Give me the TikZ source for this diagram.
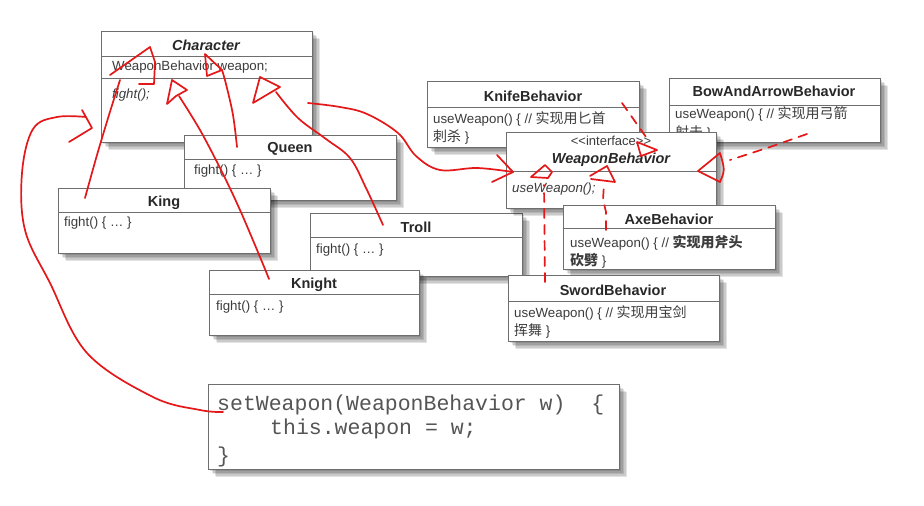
\documentclass[tikz,border=0pt]{standalone}
\usepackage{fontspec}
\setmainfont{Liberation Sans}
\newfontfamily\cjk{Noto Sans CJK SC}
\newfontfamily\monof{Liberation Mono}
\definecolor{hred}{RGB}{228,24,24}
\definecolor{boxgray}{RGB}{110,110,110}
\definecolor{tcol}{RGB}{40,40,40}
\definecolor{bcol}{RGB}{60,60,60}
\definecolor{ccol}{RGB}{85,85,85}
\tikzset{
  shd/.style={preaction={fill=black, fill opacity=0.11, draw=none, transform canvas={xshift=#1pt, yshift=-#1pt}}},
  boxst/.style={shd=8, shd=6.5, shd=5, shd=3.5, shd=2,
    draw=boxgray, fill=white, line width=0.9pt, anchor=north west, inner sep=0pt},
  sepst/.style={draw=boxgray, line width=0.9pt},
  titlest/.style={inner sep=0pt, text=tcol, font=\bfseries\fontsize{14.5}{16}\selectfont},
  bodyst/.style={inner sep=0pt, anchor=west, text=bcol, font=\fontsize{13.3}{15}\selectfont},
  codest/.style={inner sep=0pt, anchor=west, text=ccol, font=\monof\fontsize{21.5}{24}\selectfont},
  redl/.style={draw=hred, line width=1.7pt, line cap=round, line join=round},
  redd/.style={redl, dash pattern=on 9pt off 7pt}
}
\newcommand\umlbox[6]{%
  \node[boxst, minimum width={(#4-#2)*1pt}, minimum height={(#5-#3)*1pt}] (#1) at (#2,#3) {};
  \draw[sepst] (#1.west |- 0,#6) -- (#1.east |- 0,#6);
}
\newcommand\cj[1]{{\cjk\fontsize{14}{16}\selectfont #1}}
\begin{document}
\begin{tikzpicture}[x=1pt,y=-1pt]
\useasboundingbox (0,0) rectangle (924,506);
\fill[white] (0,0) rectangle (924,506);

% Character
\umlbox{char}{101}{31}{312}{142}{56}
\draw[sepst] (char.west |- 0,78) -- (char.east |- 0,78);
\node[titlest] (charT) at (206,45) {\itshape Character};
\node[bodyst] (charA) at (112,67) {WeaponBehavior weapon;};
\node[bodyst] (charM) at (112,95) {\itshape fight();};

% Queen
\umlbox{queen}{184}{135}{396}{200}{159}
\node[titlest] (queenT) at (290,149) {Queen};
\node[bodyst] (queenM) at (194,171) {fight() \{ … \}};

% King
\umlbox{king}{58}{188}{270}{253}{212}
\node[titlest] (kingT) at (164,203) {King};
\node[bodyst] (kingM) at (64,223) {fight() \{ … \}};

% Troll
\umlbox{troll}{310}{213}{522}{276}{237}
\node[titlest] (trollT) at (416,227) {Troll};
\node[bodyst] (trollM) at (316,250) {fight() \{ … \}};

% Knight
\umlbox{knight}{209}{270}{419}{335}{294}
\node[titlest] (knightT) at (314,285) {Knight};
\node[bodyst] (knightM) at (216,307) {fight() \{ … \}};

% KnifeBehavior
\umlbox{knife}{427}{81}{639}{147}{107}
\node[titlest] (knifeT) at (533,96) {KnifeBehavior};
\node[bodyst] (knifeM) at (433,119) {useWeapon() \{ // \cj{实现用匕首}};
\node[bodyst] (knifeN) at (433,137) {\cj{刺杀} \}};

% BowAndArrowBehavior
\umlbox{bow}{669}{78}{880}{142}{105}
\node[titlest] (bowT) at (774,91) {BowAndArrowBehavior};
\node[bodyst] (bowM) at (675,114) {useWeapon() \{ // \cj{实现用弓箭}};
\node[bodyst] (bowN) at (675,133) {\cj{射击} \}};

% WeaponBehavior
\umlbox{weapon}{506}{132}{716}{208}{171}
\node[inner sep=0pt, text=bcol, font=\fontsize{13}{15}\selectfont] (weaponS) at (611,141) {<\kern0pt<interface>\kern0pt>};
\node[titlest] (weaponT) at (611,160) {\itshape WeaponBehavior};
\node[bodyst] (weaponM) at (512,189) {\itshape useWeapon();};

% AxeBehavior
\umlbox{axe}{563}{205}{775}{269}{228}
\node[titlest] (axeT) at (669,219) {AxeBehavior};
\node[bodyst] (axeM) at (570,243) {useWeapon() \{ // {\bfseries\cj{实现用斧头}}};
\node[bodyst] (axeN) at (570,261) {{\bfseries\cj{砍劈}} \}};

% SwordBehavior
\umlbox{sword}{508}{275}{719}{341}{301}
\node[titlest] (swordT) at (613,290) {SwordBehavior};
\node[bodyst] (swordM) at (514,313) {useWeapon() \{ // \cj{实现用宝剑}};
\node[bodyst] (swordN) at (514,331) {\cj{挥舞} \}};

% code box
\node[boxst, minimum width=411pt, minimum height=85pt] (code) at (208,384) {};
\node[codest] (code1) at (217,405) {setWeapon(WeaponBehavior w)\ \ \{};
\node[codest] (code2) at (270,429) {this.weapon = w;};
\node[codest] (code3) at (217,457) {\}};

% ---- red hand-drawn annotations ----
\coordinate (kingTop) at (85,198);
\coordinate (knightTop) at (269,279);
\coordinate (queenTop) at (237,147);
\coordinate (trollTop) at (383,225);
\coordinate (charRight) at (308,103);
\coordinate (weaponLeft) at (513,172);
\coordinate (codeLeft) at (223,412);
\coordinate (charLeft) at (92,128);

% King -> Character
\draw[redl] plot[smooth, tension=0.6] coordinates {(kingTop) (97,155) (109,115) (120,80)};
\draw[redl] (110,75) -- (150,47) -- (155,62) -- (154,84) -- (139,84);
% Knight -> Character
\draw[redl] plot[smooth, tension=0.6] coordinates {(knightTop) (260,257) (240,210) (222,172) (200,130) (179,96)};
\draw[redl] (167,104) -- (172,80) -- (187,90) -- (176,96) -- cycle;
% Queen -> Character
\draw[redl] plot[smooth, tension=0.6] coordinates {(queenTop) (233,115) (226,84) (222,70)};
\draw[redl] (205,54) -- (222,70) -- (207,76) -- cycle;
% Troll -> Character
\draw[redl] plot[smooth, tension=0.6] coordinates {(trollTop) (366,188) (350,158) (326,139) (298,118) (276,92)};
\draw[redl] (260,77) -- (280,87) -- (253,103) -- cycle;
% Character -> WeaponBehavior
\draw[redl] plot[smooth, tension=0.6] coordinates {(charRight) (340,107) (367,114) (398,133) (416,156) (440,170) (477,168) (weaponLeft)};
\draw[redl] (497,155) -- (weaponLeft) -- (492,182);
% setWeapon -> Character
\draw[redl] plot[smooth, tension=0.6] coordinates {(codeLeft) (200,410) (153,397) (87,353) (50,283) (25,230) (22,173) (33,129) (57,117) (86,117)};
\draw[redl] (82,110) -- (charLeft) -- (69,142);
% KnifeBehavior -> WeaponBehavior
\coordinate (knifeEnd) at (622,103);
\draw[redd] (knifeEnd) -- (646,137);
\draw[redl] (637,142) -- (657,150) -- (641,156) -- cycle;
% BowAndArrowBehavior -> WeaponBehavior
\coordinate (bowEnd) at (807,134);
\draw[redd] (bowEnd) -- (770,147) -- (730,160);
\draw[redl] (720,153) -- (698,171) -- (720,182) .. controls (725,170) .. (720,153);
% SwordBehavior -> WeaponBehavior
\coordinate (swordTop) at (545,282);
\draw[redd] (swordTop) -- (544,185);
\draw[redl] (531,177) -- (545,165) -- (552,172) -- (548,178) -- cycle;
% AxeBehavior -> WeaponBehavior
\coordinate (axeTop) at (606,230);
\draw[redd] (axeTop) -- (606,212) -- (603,200) -- (604,184);
\draw[redl] (590,176) -- (607,166) -- (615,182) -- (591,179);
\end{tikzpicture}
\end{document}
